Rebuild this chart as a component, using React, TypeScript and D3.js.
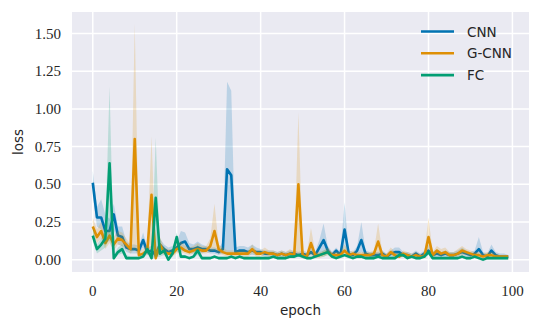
import React from "react";
import * as d3 from "d3";

// loss per epoch (mean over runs) and the shaded band around it
const cnnMean = [
  0.51, 0.28, 0.28, 0.19, 0.19, 0.30, 0.16, 0.15, 0.08, 0.07,
  0.07, 0.06, 0.13, 0.05, 0.06, 0.03, 0.10, 0.07, 0.05, 0.06,
  0.08, 0.11, 0.12, 0.07, 0.07, 0.08, 0.07, 0.07, 0.06, 0.06,
  0.05, 0.07, 0.60, 0.56, 0.05, 0.06, 0.06, 0.05, 0.06, 0.05,
  0.05, 0.04, 0.04, 0.04, 0.03, 0.04, 0.03, 0.04, 0.04, 0.03,
  0.04, 0.03, 0.05, 0.03, 0.08, 0.13, 0.06, 0.03, 0.06, 0.03,
  0.20, 0.04, 0.03, 0.06, 0.13, 0.04, 0.03, 0.03, 0.03, 0.04,
  0.02, 0.04, 0.05, 0.05, 0.03, 0.03, 0.02, 0.04, 0.02, 0.04,
  0.06, 0.03, 0.04, 0.03, 0.04, 0.03, 0.03, 0.04, 0.05, 0.04,
  0.03, 0.04, 0.07, 0.03, 0.02, 0.06, 0.03, 0.02, 0.02, 0.02,
];
const cnnHi = [
  0.59, 0.35, 0.40, 0.30, 0.27, 0.37, 0.22, 0.22, 0.12, 0.10,
  0.10, 0.09, 0.18, 0.08, 0.09, 0.06, 0.14, 0.10, 0.08, 0.09,
  0.12, 0.19, 0.18, 0.11, 0.10, 0.12, 0.10, 0.09, 0.08, 0.08,
  0.07, 0.12, 1.18, 1.12, 0.08, 0.09, 0.09, 0.08, 0.10, 0.08,
  0.07, 0.06, 0.06, 0.06, 0.05, 0.06, 0.05, 0.06, 0.06, 0.05,
  0.06, 0.05, 0.08, 0.05, 0.13, 0.24, 0.09, 0.05, 0.08, 0.05,
  0.38, 0.06, 0.05, 0.09, 0.25, 0.06, 0.05, 0.05, 0.05, 0.06,
  0.04, 0.06, 0.08, 0.08, 0.05, 0.05, 0.04, 0.06, 0.04, 0.06,
  0.10, 0.05, 0.07, 0.05, 0.06, 0.05, 0.05, 0.06, 0.08, 0.06,
  0.05, 0.06, 0.15, 0.05, 0.04, 0.10, 0.05, 0.04, 0.04, 0.03,
];
const cnnLo = [
  0.42, 0.22, 0.20, 0.12, 0.12, 0.20, 0.10, 0.09, 0.05, 0.04,
  0.04, 0.04, 0.08, 0.03, 0.03, 0.01, 0.06, 0.04, 0.03, 0.03,
  0.05, 0.05, 0.07, 0.04, 0.04, 0.05, 0.04, 0.05, 0.04, 0.04,
  0.03, 0.04, 0.04, 0.04, 0.03, 0.04, 0.04, 0.03, 0.03, 0.03,
  0.03, 0.02, 0.02, 0.02, 0.02, 0.02, 0.02, 0.02, 0.02, 0.02,
  0.02, 0.02, 0.03, 0.02, 0.04, 0.05, 0.04, 0.02, 0.04, 0.02,
  0.07, 0.02, 0.02, 0.03, 0.05, 0.02, 0.02, 0.02, 0.02, 0.02,
  0.01, 0.02, 0.02, 0.03, 0.02, 0.02, 0.01, 0.02, 0.01, 0.02,
  0.03, 0.02, 0.02, 0.02, 0.02, 0.02, 0.02, 0.02, 0.03, 0.02,
  0.02, 0.02, 0.03, 0.02, 0.01, 0.03, 0.02, 0.01, 0.01, 0.01,
];

const gcnnMean = [
  0.22, 0.15, 0.19, 0.11, 0.16, 0.10, 0.14, 0.13, 0.10, 0.07,
  0.80, 0.03, 0.04, 0.06, 0.43, 0.01, 0.10, 0.05, 0.04, 0.04,
  0.07, 0.08, 0.06, 0.05, 0.06, 0.07, 0.06, 0.06, 0.09, 0.19,
  0.07, 0.05, 0.04, 0.04, 0.04, 0.04, 0.04, 0.04, 0.07, 0.04,
  0.04, 0.05, 0.04, 0.04, 0.03, 0.04, 0.03, 0.04, 0.03, 0.50,
  0.03, 0.02, 0.11, 0.03, 0.03, 0.04, 0.05, 0.03, 0.03, 0.03,
  0.06, 0.03, 0.04, 0.03, 0.03, 0.03, 0.03, 0.04, 0.12, 0.03,
  0.02, 0.05, 0.03, 0.02, 0.04, 0.03, 0.02, 0.03, 0.02, 0.02,
  0.15, 0.03, 0.06, 0.04, 0.05, 0.03, 0.03, 0.04, 0.06, 0.05,
  0.04, 0.03, 0.03, 0.02, 0.03, 0.03, 0.02, 0.02, 0.02, 0.02,
];
const gcnnHi = [
  0.28, 0.20, 0.25, 0.16, 0.21, 0.15, 0.19, 0.18, 0.14, 0.10,
  1.57, 0.06, 0.07, 0.10, 0.82, 0.04, 0.15, 0.08, 0.07, 0.07,
  0.11, 0.12, 0.09, 0.08, 0.09, 0.11, 0.09, 0.09, 0.14, 0.37,
  0.10, 0.08, 0.06, 0.06, 0.06, 0.06, 0.06, 0.06, 0.10, 0.06,
  0.06, 0.08, 0.06, 0.06, 0.05, 0.06, 0.05, 0.07, 0.05, 0.98,
  0.05, 0.04, 0.21, 0.05, 0.05, 0.06, 0.08, 0.05, 0.05, 0.05,
  0.10, 0.05, 0.06, 0.05, 0.05, 0.05, 0.05, 0.06, 0.24, 0.05,
  0.04, 0.08, 0.05, 0.04, 0.06, 0.05, 0.04, 0.05, 0.04, 0.04,
  0.28, 0.05, 0.09, 0.07, 0.08, 0.05, 0.05, 0.07, 0.09, 0.07,
  0.06, 0.05, 0.05, 0.04, 0.05, 0.05, 0.04, 0.03, 0.03, 0.03,
];
const gcnnLo = [
  0.17, 0.11, 0.14, 0.07, 0.11, 0.06, 0.10, 0.09, 0.07, 0.04,
  0.07, 0.01, 0.02, 0.03, 0.06, 0.00, 0.05, 0.03, 0.02, 0.02,
  0.04, 0.05, 0.04, 0.03, 0.04, 0.04, 0.04, 0.04, 0.05, 0.06,
  0.04, 0.03, 0.02, 0.02, 0.02, 0.02, 0.02, 0.02, 0.04, 0.02,
  0.02, 0.03, 0.02, 0.02, 0.01, 0.02, 0.01, 0.02, 0.01, 0.03,
  0.01, 0.01, 0.03, 0.01, 0.01, 0.02, 0.03, 0.01, 0.01, 0.01,
  0.03, 0.01, 0.02, 0.01, 0.01, 0.01, 0.01, 0.02, 0.03, 0.01,
  0.01, 0.03, 0.01, 0.01, 0.02, 0.01, 0.01, 0.01, 0.01, 0.01,
  0.06, 0.01, 0.03, 0.02, 0.03, 0.01, 0.01, 0.02, 0.03, 0.03,
  0.02, 0.01, 0.01, 0.01, 0.01, 0.01, 0.01, 0.01, 0.01, 0.01,
];

const fcMean = [
  0.16, 0.07, 0.10, 0.14, 0.64, 0.01, 0.05, 0.07, 0.01, 0.01,
  0.01, 0.01, 0.02, 0.07, 0.01, 0.41, 0.04, 0.06, 0.00, 0.04,
  0.15, 0.02, 0.02, 0.01, 0.02, 0.06, 0.01, 0.01, 0.01, 0.02,
  0.01, 0.01, 0.01, 0.02, 0.01, 0.02, 0.01, 0.01, 0.01, 0.01,
  0.01, 0.01, 0.01, 0.02, 0.01, 0.01, 0.01, 0.02, 0.02, 0.03,
  0.02, 0.01, 0.01, 0.02, 0.03, 0.04, 0.05, 0.02, 0.01, 0.02,
  0.03, 0.02, 0.01, 0.02, 0.02, 0.01, 0.01, 0.01, 0.02, 0.01,
  0.01, 0.01, 0.01, 0.03, 0.03, 0.01, 0.02, 0.01, 0.01, 0.02,
  0.05, 0.01, 0.01, 0.01, 0.01, 0.01, 0.01, 0.01, 0.02, 0.01,
  0.01, 0.02, 0.01, 0.00, 0.01, 0.01, 0.01, 0.01, 0.01, 0.01,
];
const fcHi = [
  0.22, 0.10, 0.14, 0.20, 1.15, 0.03, 0.08, 0.10, 0.03, 0.02,
  0.02, 0.02, 0.04, 0.10, 0.02, 0.81, 0.06, 0.09, 0.01, 0.06,
  0.18, 0.03, 0.03, 0.02, 0.03, 0.10, 0.02, 0.02, 0.02, 0.03,
  0.02, 0.02, 0.02, 0.03, 0.02, 0.03, 0.02, 0.02, 0.02, 0.02,
  0.02, 0.02, 0.02, 0.03, 0.02, 0.02, 0.02, 0.03, 0.03, 0.04,
  0.03, 0.02, 0.02, 0.03, 0.04, 0.06, 0.07, 0.03, 0.02, 0.03,
  0.04, 0.03, 0.02, 0.03, 0.03, 0.02, 0.02, 0.02, 0.03, 0.02,
  0.02, 0.02, 0.02, 0.05, 0.04, 0.02, 0.03, 0.02, 0.02, 0.03,
  0.07, 0.02, 0.02, 0.02, 0.02, 0.02, 0.02, 0.02, 0.03, 0.02,
  0.02, 0.03, 0.02, 0.01, 0.02, 0.02, 0.02, 0.02, 0.02, 0.02,
];
const fcLo = [
  0.12, 0.04, 0.06, 0.08, 0.14, 0.00, 0.03, 0.04, 0.00, 0.00,
  0.00, 0.00, 0.01, 0.04, 0.00, 0.02, 0.02, 0.03, 0.00, 0.02,
  0.11, 0.01, 0.01, 0.00, 0.01, 0.03, 0.00, 0.00, 0.00, 0.01,
  0.00, 0.00, 0.00, 0.01, 0.00, 0.01, 0.00, 0.00, 0.00, 0.00,
  0.00, 0.00, 0.00, 0.01, 0.00, 0.00, 0.00, 0.01, 0.01, 0.02,
  0.01, 0.00, 0.00, 0.01, 0.02, 0.02, 0.03, 0.01, 0.00, 0.01,
  0.02, 0.01, 0.00, 0.01, 0.01, 0.00, 0.00, 0.00, 0.01, 0.00,
  0.00, 0.00, 0.00, 0.02, 0.02, 0.00, 0.01, 0.00, 0.00, 0.01,
  0.03, 0.00, 0.00, 0.00, 0.00, 0.00, 0.00, 0.00, 0.01, 0.00,
  0.00, 0.01, 0.00, -0.01, 0.00, 0.00, 0.00, 0.00, 0.00, 0.00,
];

const seriesNames = ["CNN", "G-CNN", "FC"];
const seriesColors = ["#0173b2", "#de8f05", "#029e73"];
const xTicks = [0, 20, 40, 60, 80, 100];
const yTicks = [0, 0.25, 0.5, 0.75, 1.0, 1.25, 1.5];

const W = 540;
const H = 330;
const left = 72, right = 529, top = 12, bottom = 272;

export default function App() {
  const x = d3.scaleLinear().domain([-4.95, 103.95]).range([left, right]);
  const y = d3.scaleLinear().domain([-0.082, 1.643]).range([bottom, top]);

  const series = [
    { mean: cnnMean, lo: cnnLo, hi: cnnHi },
    { mean: gcnnMean, lo: gcnnLo, hi: gcnnHi },
    { mean: fcMean, lo: fcLo, hi: fcHi },
  ];

  const line = d3
    .line<number>()
    .x((_, i) => x(i))
    .y((d) => y(d));

  const tickFont = "'Liberation Serif', 'DejaVu Serif', serif";
  const labelFont = "'DejaVu Sans', sans-serif";

  return (
    <svg
      width={W}
      height={H}
      style={{ position: "absolute", left: 0, top: 0, background: "#fff" }}
    >
      <defs>
        <clipPath id="plot">
          <rect x={left} y={top} width={right - left} height={bottom - top} />
        </clipPath>
      </defs>
      <rect x={left} y={top} width={right - left} height={bottom - top} fill="#eaeaf2" />
      {xTicks.map((t) => (
        <line key={"gx" + t} x1={x(t)} x2={x(t)} y1={top} y2={bottom} stroke="#fff" strokeWidth={1.5} />
      ))}
      {yTicks.map((t) => (
        <line key={"gy" + t} x1={left} x2={right} y1={y(t)} y2={y(t)} stroke="#fff" strokeWidth={1.5} />
      ))}

      <g clipPath="url(#plot)">
        {series.map((s, k) => {
          const area = d3
            .area<number>()
            .x((_, i) => x(i))
            .y0((_, i) => y(s.lo[i]))
            .y1((_, i) => y(s.hi[i]));
          return (
            <g key={seriesNames[k]}>
              <path d={area(s.mean) || ""} fill={seriesColors[k]} fillOpacity={0.2} stroke="none" />
              <path
                d={line(s.mean) || ""}
                fill="none"
                stroke={seriesColors[k]}
                strokeWidth={2.6}
                strokeLinejoin="round"
                strokeLinecap="butt"
              />
            </g>
          );
        })}
      </g>

      {xTicks.map((t) => (
        <text key={"tx" + t} x={x(t)} y={296} textAnchor="middle" fontFamily={tickFont} fontSize={15} fill="#262626">
          {t}
        </text>
      ))}
      {yTicks.map((t) => (
        <text key={"ty" + t} x={61} y={y(t) + 5} textAnchor="end" fontFamily={tickFont} fontSize={15} fill="#262626">
          {t.toFixed(2)}
        </text>
      ))}

      <text x={(left + right) / 2} y={315} textAnchor="middle" fontFamily={labelFont} fontSize={13.5} fill="#262626">
        epoch
      </text>
      <text
        transform={`translate(23,${(top + bottom) / 2}) rotate(-90)`}
        textAnchor="middle"
        fontFamily={labelFont}
        fontSize={13.5}
        fill="#262626"
      >
        loss
      </text>

      {seriesNames.map((name, k) => (
        <g key={"lg" + name} transform={`translate(421,${31.5 + k * 21.8})`}>
          <line x1={0} x2={33} y1={0} y2={0} stroke={seriesColors[k]} strokeWidth={2.6} />
          <text x={46} y={5} fontFamily={labelFont} fontSize={13.5} fill="#262626">
            {name}
          </text>
        </g>
      ))}
    </svg>
  );
}
